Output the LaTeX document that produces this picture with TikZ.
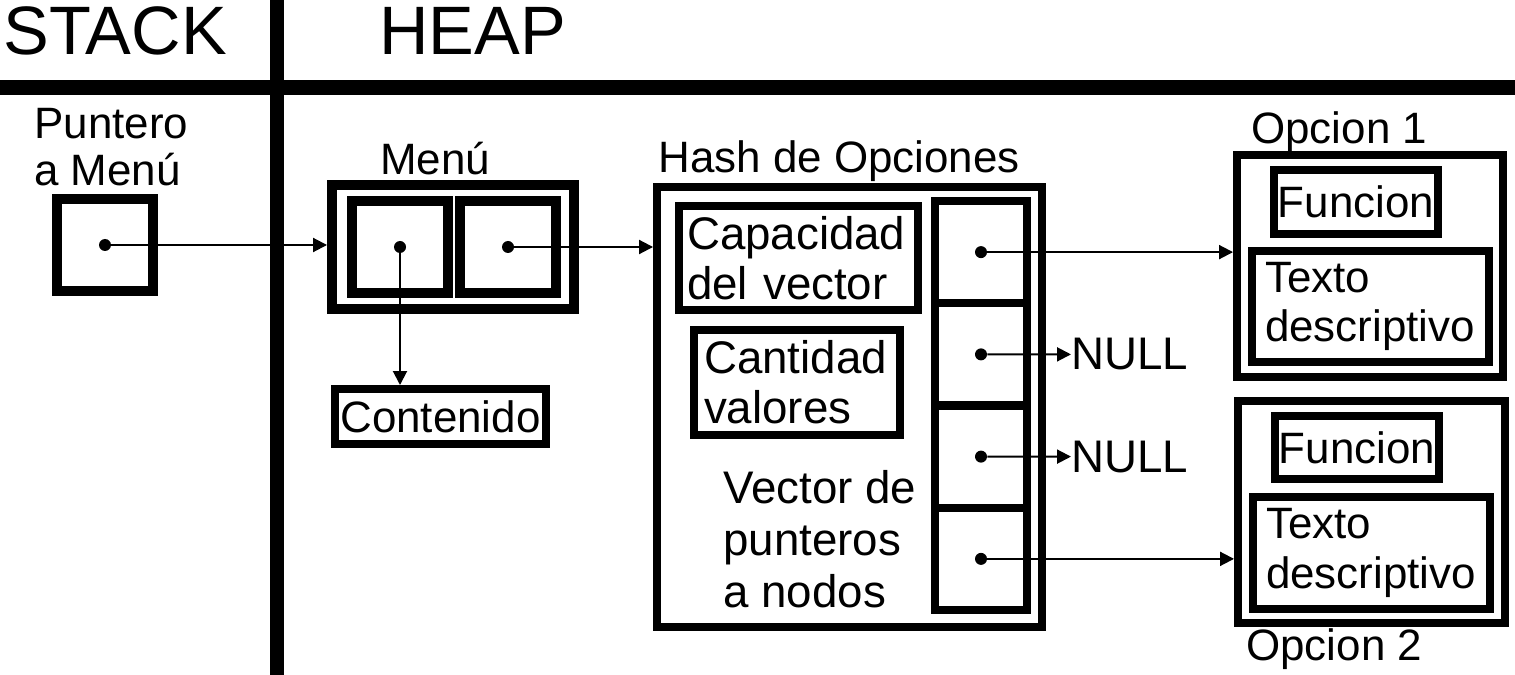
\documentclass[tikz,border=0pt]{standalone}
\usepackage{fontspec}
\setmainfont{Liberation Sans}
\usetikzlibrary{arrows.meta}

\tikzset{
    caja/.style={draw, line width=0.16cm, inner sep=0pt},
    cajagruesa/.style={draw, line width=0.2cm, inner sep=0pt},
    punto/.style={circle, fill, inner sep=0pt, minimum size=0.24cm},
    flecha/.style={line width=0.04cm, -{Triangle[length=0.28cm, width=0.28cm]}},
    titulo/.style={font=\fontsize{39}{42}\selectfont, inner sep=0pt},
    etiqueta/.style={inner sep=0pt},
    grande/.style={font=\fontsize{26}{28.4}\selectfont},
}

\begin{document}
\begin{tikzpicture}[x=0.02cm, y=-0.02cm, font=\fontsize{25}{28}\selectfont]
        \useasboundingbox (0,0) rectangle (1515,675);

        % ~~~~ Division stack / heap ~~~~%
        \draw[line width=0.3cm] (0,87.5) -- (1515,87.5);
        \draw[line width=0.28cm] (277,0) -- (277,675);
        \node[titulo, anchor=base west] (stack) at (3,55) {STACK};
        \node[titulo, anchor=base west] (heap) at (379,55) {HEAP};

        % ~~~~ Stack ~~~~%
        \node[etiqueta, anchor=north west, align=left, font=\fontsize{25}{26.7}\selectfont]
            (ptrtxt) at (34,108) {Puntero\\a Menú};
        \node[cajagruesa, minimum width=1.92cm, minimum height=1.84cm] (puntero) at (105,245) {};
        \node[punto] (pstack) at (puntero) {};

        % ~~~~ Menu ~~~~%
        \node[etiqueta, anchor=base] (menutxt) at (435,175) {Menú};
        \node[cajagruesa, minimum width=4.84cm, minimum height=2.48cm] (menu) at (453,247) {};
        \node[cajagruesa, minimum width=1.92cm, minimum height=1.84cm] (menuizq) at (400,247) {};
        \node[cajagruesa, minimum width=1.92cm, minimum height=1.84cm] (menuder) at (508,247) {};
        \node[punto] (pmizq) at (menuizq) {};
        \node[punto] (pmder) at (menuder) {};
        \node[caja, minimum width=4.22cm, minimum height=1.1cm] (contenido) at (440.5,416.5) {Contenido};

        % ~~~~ Hash ~~~~%
        \node[etiqueta, anchor=base west] (hashtxt) at (658,173) {Hash de Opciones};
        \node[caja, minimum width=7.7cm, minimum height=8.8cm] (hash) at (849.5,407) {};
        \node[caja, grande, inner xsep=0.16cm, text width=4.46cm, minimum height=2.08cm, align=left]
            (capacidad) at (798.5,258) {Capacidad\\del vector};
        \node[caja, grande, inner xsep=0.2cm, text width=3.72cm, minimum height=2.1cm, align=left]
            (cantidad) at (797,382.5) {Cantidad\\valores};
        \node[etiqueta, anchor=north west, align=left, font=\fontsize{26}{29.5}\selectfont]
            (vectxt) at (723,470) {Vector de\\punteros\\a nodos};
        \foreach \i in {1,...,4}{
            \node[caja, minimum width=1.84cm, minimum height=2.045cm] (celda\i)
                at (981,{201+102.25*(\i-0.5)}) {};
            \node[punto] (p\i) at (celda\i) {};
        }
        \node[etiqueta, grande, anchor=west] (null1) at (1071,354.4) {NULL};
        \node[etiqueta, grande, anchor=west] (null2) at (1071,456.6) {NULL};

        % ~~~~ Opciones ~~~~%
        \node[etiqueta, anchor=base west] (op1txt) at (1251,144) {Opcion 1};
        \node[caja, minimum width=5.32cm, minimum height=4.44cm] (opcion1) at (1370,266) {};
        \node[caja, minimum width=3.28cm, minimum height=1.28cm] (funcion1) at (1356,202) {Funcion};
        \node[caja, inner xsep=0.26cm, text width=4.22cm, minimum height=2.22cm, align=left]
            (texto1) at (1370.5,306.5) {Texto\\descriptivo};

        \node[caja, minimum width=5.34cm, minimum height=4.44cm] (opcion2) at (1371.5,512) {};
        \node[caja, minimum width=3.28cm, minimum height=1.26cm] (funcion2) at (1357,447.5) {Funcion};
        \node[caja, inner xsep=0.26cm, text width=4.22cm, minimum height=2.24cm, align=left]
            (texto2) at (1371.5,553) {Texto\\descriptivo};
        \node[etiqueta, anchor=base west] (op2txt) at (1246,660) {Opcion 2};

        % ~~~~ Punteros ~~~~%
        \draw[flecha] (pstack) -- (pstack -| menu.west);
        \draw[flecha] (pmizq) -- (pmizq |- contenido.north);
        \draw[flecha] (pmder) -- (pmder -| hash.west);
        \draw[flecha] (p1) -- (p1 -| opcion1.west);
        \draw[flecha] (p2) -- (null1);
        \draw[flecha] (p3) -- (null2);
        \draw[flecha] (p4) -- (p4 -| opcion2.west);
    \end{tikzpicture}
\end{document}
